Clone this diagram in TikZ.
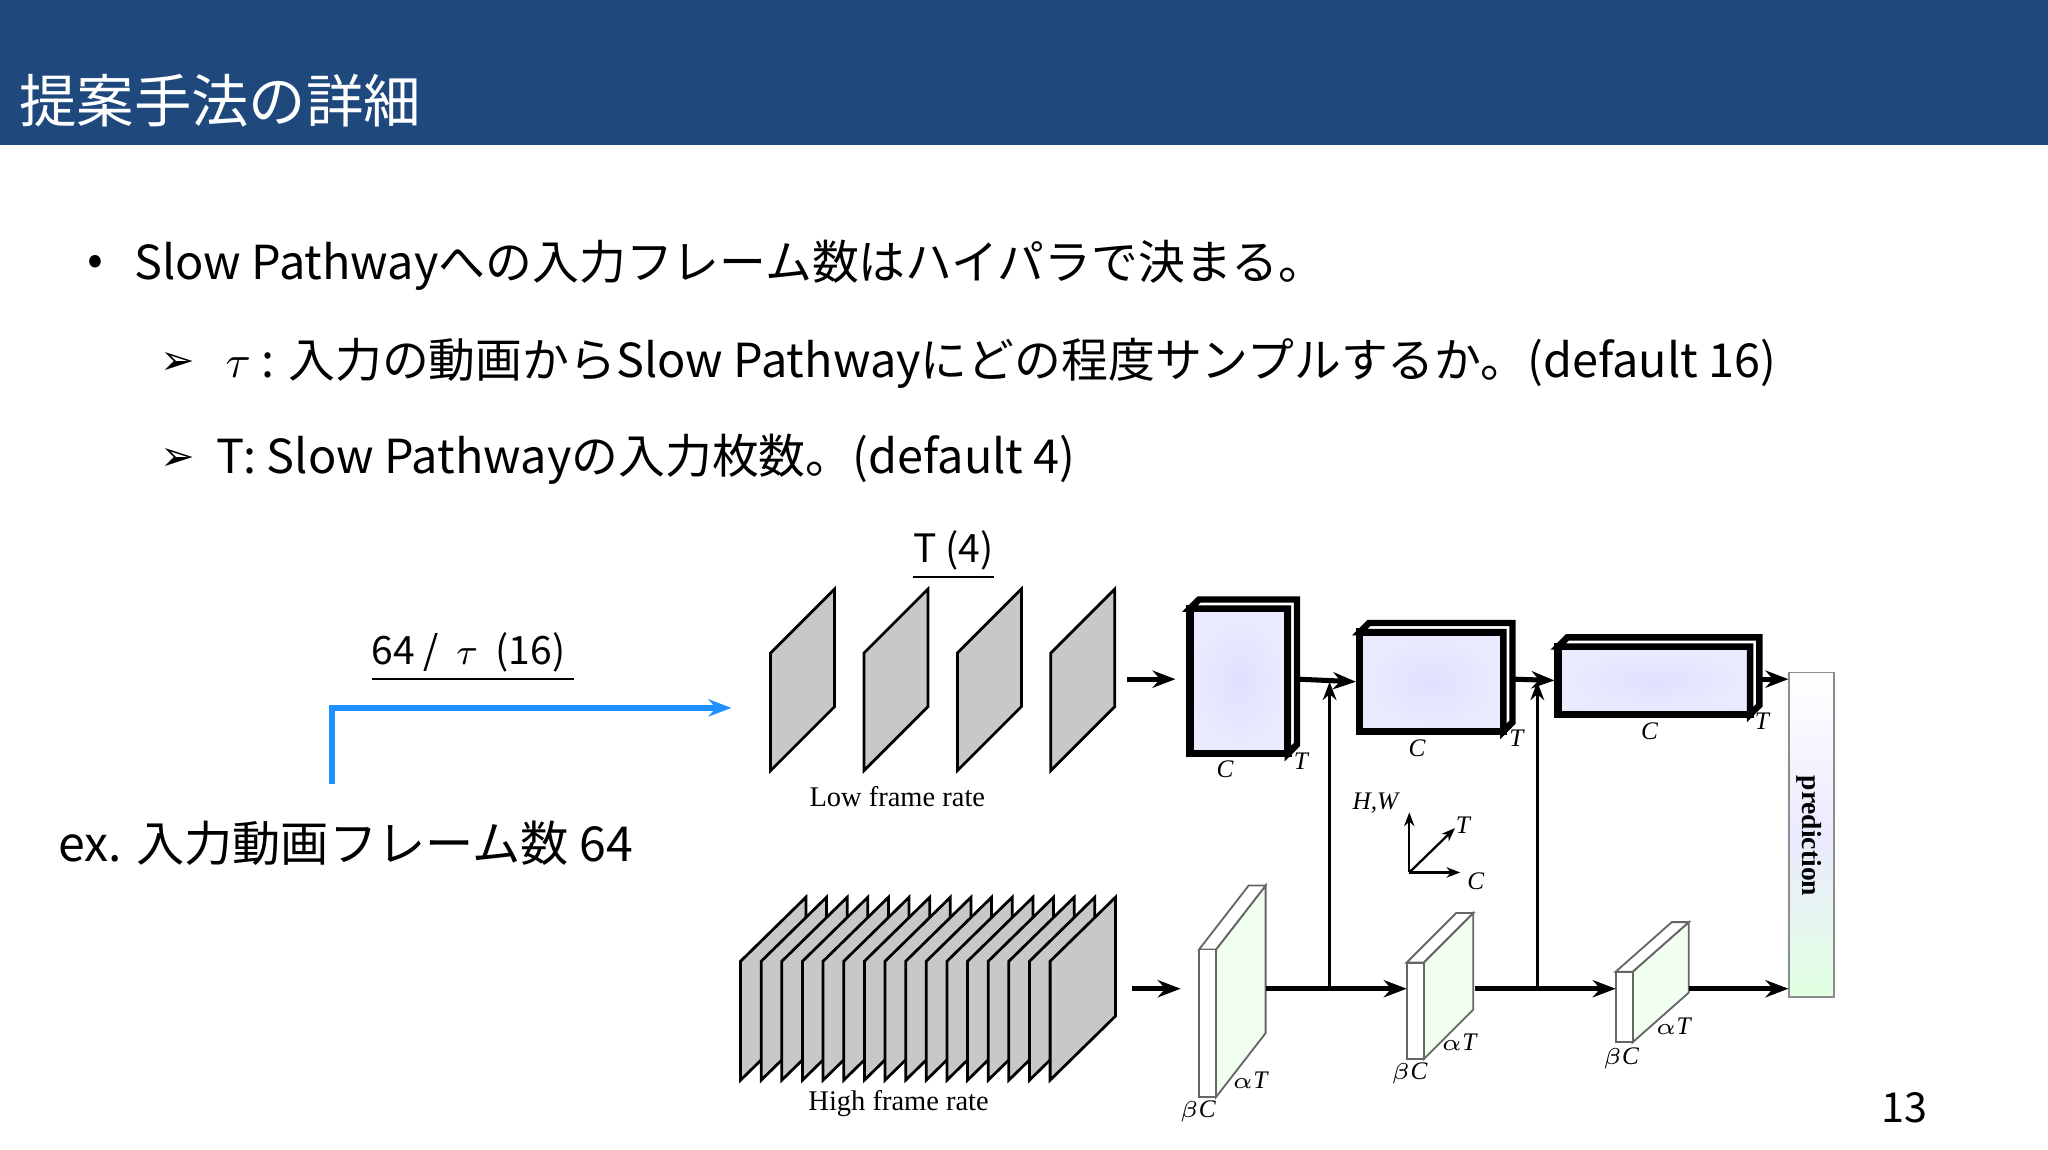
\documentclass[tikz,border=0pt]{standalone}
\usepackage{fontspec}
\setmainfont{Noto Sans CJK JP}
\newfontfamily\lserif{Liberation Serif}
\newfontfamily\dv{DejaVu Sans}
\usetikzlibrary{arrows.meta}
\definecolor{barblue}{RGB}{31,73,125}
\definecolor{lineblue}{RGB}{30,144,255}
\definecolor{framegray}{RGB}{200,200,200}
\tikzset{
  body/.style={anchor=west, inner sep=0pt, font=\fontsize{10.2}{12}\selectfont},
  lbl/.style={inner sep=0pt, font=\lserif\itshape\fontsize{5.5}{6}\selectfont},
  ratelbl/.style={inner sep=0pt, font=\lserif\fontsize{6.2}{7}\selectfont},
  frame/.style={draw, fill=framegray, line width=0.6pt},
  slowbox/.style={draw, line width=1.6pt, inner sep=0pt, inner color=blue!12, outer color=white!92!blue},
  arr/.style={-{Stealth[length=5pt]}, line width=1.1pt},
  thin arr/.style={-{Stealth[length=4pt]}, line width=0.6pt},
}
\begin{document}
\begin{tikzpicture}[x=0.01cm, y=-0.01cm]
\useasboundingbox (0,0) rectangle (1568,880);
% header
\fill[barblue] (0,0) rectangle (1568,111);
\node (title) [anchor=west, inner sep=0pt, text=white, font=\fontsize{12.5}{14}\selectfont] at (14,77) {提案手法の詳細};

% bullets
\node (b0) [body] at (66,203) {•};
\node (b1) [body] at (102,203) {Slow Pathwayへの入力フレーム数はハイパラで決まる。};
\node (a1) [body, font=\dv\fontsize{9}{10}\selectfont] at (122,278) {➢};
\node (b2) [body] at (172,278) {$\tau$ : 入力の動画からSlow Pathwayにどの程度サンプルするか。(default 16)};
\node (a2) [body, font=\dv\fontsize{9}{10}\selectfont] at (122,352) {➢};
\node (b3) [body] at (165,352) {T: Slow Pathwayの入力枚数。(default 4)};

\node (tfour) [inner sep=1pt, font=\fontsize{8.5}{10}\selectfont] at (730,425) {\underline{T (4)}};
\node (stride) [inner sep=1pt, font=\fontsize{8.5}{10}\selectfont] at (362,503) {\underline{64 / \ $\tau$ \ (16) }};
\coordinate (bstart) at (254,600);
\coordinate (bend) at (560,542);
\draw[lineblue, line width=1.4pt, -{Stealth[length=5pt]}] (bstart) |- (bend);
\node (ex) [body, font=\fontsize{10.5}{12}\selectfont] at (44,646) {ex. 入力動画フレーム数 64};

% low frame rate
\foreach \i in {0,...,3}{
  \draw[frame] ({590+71.5*\i},500) -- ++(49,-49) -- ++(0,90) -- ++(-49,49) -- cycle;
}
\node (low) [ratelbl] at (687,610) {Low frame rate};
% high frame rate
\foreach \i in {0,...,15}{
  \draw[frame] ({567+15.8*\i},736) -- ++(50,-49) -- ++(0,91) -- ++(-50,49) -- cycle;
}
\node (high) [ratelbl] at (688,845) {High frame rate};

\coordinate (lin0) at (863,520); \coordinate (lin1) at (900,520);
\coordinate (hin0) at (867,757); \coordinate (hin1) at (904,757);
\draw[arr] (lin0) -- (lin1);
\draw[arr] (hin0) -- (hin1);

% slow pathway blocks
\node (s1) [slowbox, minimum width=0.75cm, minimum height=1.11cm] at (948.5,521.5) {};
\draw[line width=1.4pt, fill=white] (911,466) -- ++(7,-7) -- ++(75,0) -- ++(0,111) -- ++(-7,7) -- (986,466) -- cycle;
\node (s2) [slowbox, minimum width=1.10cm, minimum height=0.76cm] at (1096,522) {};
\draw[line width=1.4pt, fill=white] (1041,484) -- ++(7,-7) -- ++(110,0) -- ++(0,76) -- ++(-7,7) -- (1151,484) -- cycle;
\node (s3) [slowbox, minimum width=1.47cm, minimum height=0.52cm] at (1266.5,521) {};
\draw[line width=1.4pt, fill=white] (1193,495) -- ++(7,-7) -- ++(147,0) -- ++(0,52) -- ++(-7,7) -- (1340,495) -- cycle;
\node (c1) [lbl] at (938,589) {C}; \node (t1) [lbl] at (996,583) {T};
\node (c2) [lbl] at (1085,573) {C}; \node (t2) [lbl] at (1161,565) {T};
\node (c3) [lbl] at (1263,560) {C}; \node (t3) [lbl] at (1349,552) {T};

% prediction
\node (pred) [draw=black!45, minimum width=0.34cm, minimum height=2.48cm, inner sep=0pt,
  top color=white, bottom color=green!12!white, middle color=blue!8!white] at (1387,639) {};
\node (predtxt) [ratelbl, rotate=-90, font=\lserif\bfseries\fontsize{6}{7}\selectfont] at (1385,640) {prediction};

% fast pathway blocks
\foreach \x/\y/\h/\dx/\dy in {918/727/113/38/49, 1077/737/74/38/38, 1237/744/54/43/38}{
  \draw[black!60, fill=green!6!white] (\x+13,\y) -- ++(\dx,-\dy) -- ++(0,\h) -- ++(-\dx,\dy) -- cycle;
  \draw[black!60, fill=white] (\x,\y) -- ++(\dx,-\dy) -- ++(13,0) -- ++(-\dx,\dy) -- cycle;
  \draw[black!60, fill=white] (\x,\y) rectangle ++(13,\h);
}
\coordinate (f1) at (969,757); \coordinate (f2a) at (1077,757);
\coordinate (f2) at (1129,757); \coordinate (f3a) at (1237,757);
\coordinate (f3) at (1293,757);
\node (a1t) [lbl] at (957,827) {$\alpha$T}; \node (b1c) [lbl] at (917,851) {$\beta$C};
\node (a2t) [lbl] at (1117,798) {$\alpha$T}; \node (b2c) [lbl] at (1079,822) {$\beta$C};
\node (a3t) [lbl] at (1281,786) {$\alpha$T}; \node (b3c) [lbl] at (1241,810) {$\beta$C};

% connections
\draw[arr] (994,520) -- (s2.west);
\draw[arr] (1159,520) -- (s3.west);
\draw[arr] (1348,520) -- (pred.west |- 0,520);
\draw[arr] (f1) -- (f2a);
\draw[arr] (f2) -- (f3a);
\draw[arr] (f3) -- (pred.west |- 0,757);
\coordinate (lat1) at (1018,757); \coordinate (lat2) at (1177,757);
\draw[thin arr] (lat1) -- (1018,522);
\draw[thin arr] (lat2) -- (1177,522);

% axes
\coordinate (ax) at (1079,668);
\draw[-{Stealth[length=3pt]}, line width=0.5pt] (ax) -- (1079,622);
\draw[-{Stealth[length=3pt]}, line width=0.5pt] (ax) -- (1118,668);
\draw[-{Stealth[length=3pt]}, line width=0.5pt] (ax) -- (1114,634);
\node (hw) [lbl] at (1053,615) {H,W};
\node (axt) [lbl] at (1120,632) {T};
\node (axc) [lbl] at (1130,675) {C};

\node (page) [inner sep=0pt, font=\fontsize{9}{10}\selectfont] at (1458,848) {13};
\end{tikzpicture}
\end{document}
